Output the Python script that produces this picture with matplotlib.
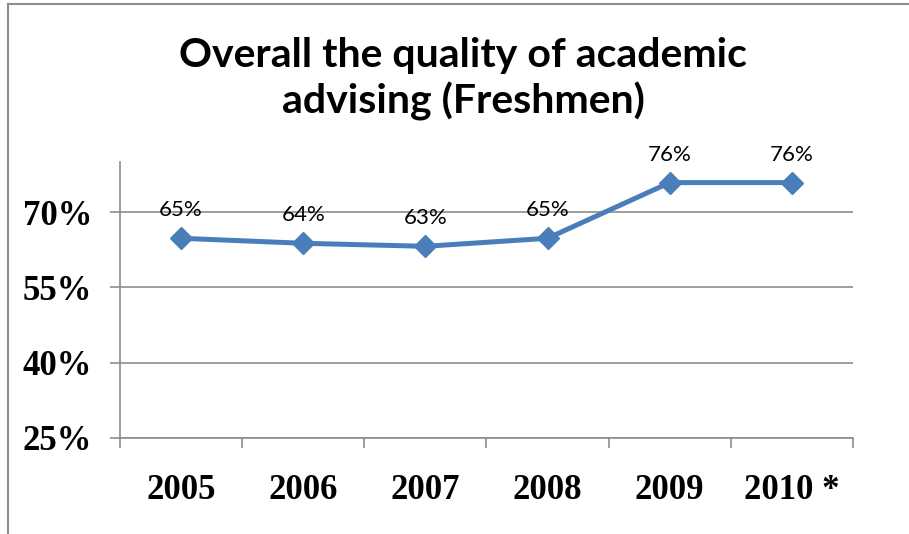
import matplotlib
matplotlib.use("Agg")
import matplotlib.pyplot as plt
from matplotlib.lines import Line2D

years = ["2005", "2006", "2007", "2008", "2009", "2010 *"]
values = [64.8, 63.8, 63.2, 64.8, 75.9, 75.9]
labels = ["65%", "64%", "63%", "65%", "76%", "76%"]
yticks = [25, 40, 55, 70]
ytick_labels = ["25%", "40%", "55%", "70%"]

fig = plt.figure(figsize=(9.09, 5.34), dpi=100)
ax = fig.add_axes([120/909, 1-438/534, (853-120)/909, (438-162)/534])

x = list(range(len(years)))
ax.plot(x, values, color="#4A7EBB", lw=3.6, marker="D", markersize=11,
        markeredgecolor="#4A7EBB", markerfacecolor="#4A7EBB", zorder=3,
        solid_capstyle="round")
for xi, v, lab in zip(x, values, labels):
    ax.annotate(lab, (xi, v), xytext=(0, 13), textcoords="offset points",
                ha="center", va="bottom", fontsize=16, family="Lato", color="black")

ax.set_xlim(-0.5, len(years) - 0.5)
ax.set_ylim(25, 80)
ax.set_yticks(yticks)
ax.set_yticklabels(ytick_labels)
ax.set_xticks(x)
ax.set_xticklabels(years)
ax.set_xticks([i - 0.5 for i in range(len(years) + 1)], minor=True)
ax.tick_params(axis="x", which="major", length=0, pad=26)
ax.tick_params(axis="x", which="minor", length=7, width=1.2, color="#8C8C8C", direction="out")
ax.tick_params(axis="y", length=7, width=1.2, color="#8C8C8C", direction="out", pad=13)
for lab in ax.get_xticklabels() + ax.get_yticklabels():
    lab.set_fontfamily("Liberation Serif")
    lab.set_fontweight("bold")
    lab.set_fontsize(25)

ax.grid(axis="y", color="#8C8C8C", lw=1.2)
ax.set_axisbelow(True)
for s in ["top", "right"]:
    ax.spines[s].set_visible(False)
for s in ["left", "bottom"]:
    ax.spines[s].set_color("#8C8C8C")
    ax.spines[s].set_linewidth(1.2)

fig.text(463/909, 1 - 79/534, "Overall the quality of academic\nadvising (Freshmen)",
         ha="center", va="center", fontsize=29.5, fontweight="bold", family="Lato",
         linespacing=1.22)

fig.add_artist(Line2D([8/909, 8/909], [0, 1-4/534], transform=fig.transFigure,
                      color="#8C8C8C", lw=1.5))
fig.add_artist(Line2D([8/909, 1], [1-4/534, 1-4/534], transform=fig.transFigure,
                      color="#8C8C8C", lw=1.5))

fig.savefig("out.png", dpi=100)
